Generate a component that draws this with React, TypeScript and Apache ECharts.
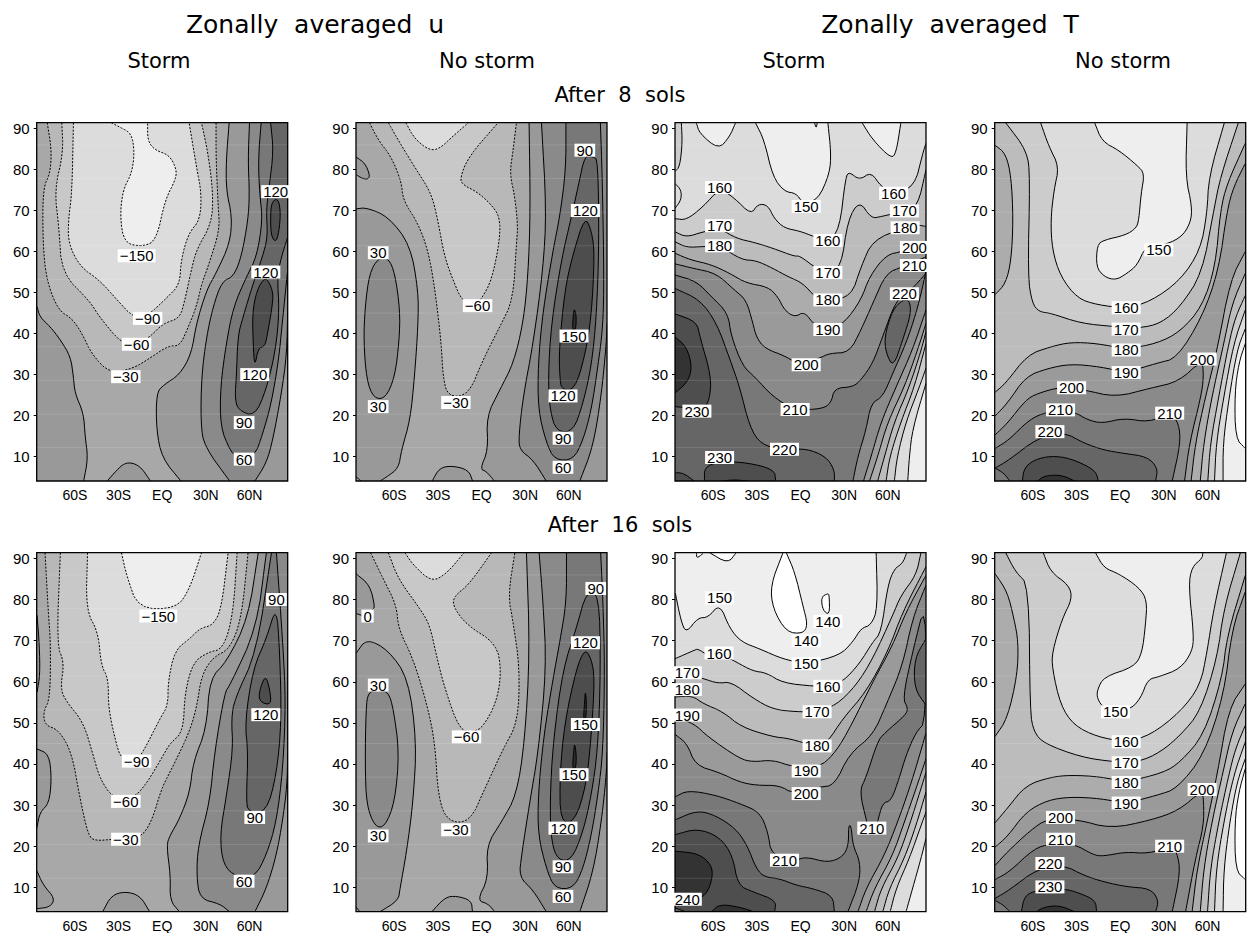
import React, { useEffect, useRef } from "react";
import * as echarts from "echarts";

type Pt = [number, number];
type Contour = [number, string, Pt[]];

const latTicks = [-60, -30, 0, 30, 60];
const latNames = ["60S", "30S", "EQ", "30N", "60N"];
const heightTicks = [10, 20, 30, 40, 50, 60, 70, 80, 90];
const stripeHeights = [12.2, 20.4, 28.6, 36.8, 45, 53.2, 61.4, 69.6, 77.8, 86];

const uStorm8: Contour[] = [
  [0, "SW", [[-86, 46.6], [-84, 44], [-77, 41.7], [-70, 38.5], [-63, 34.4], [-61, 29.5], [-60, 25.5], [-54, 20.5], [-53, 15], [-51, 9.6], [-54, 4]]],
  [0, "", [[-38, 4], [-31, 6.8], [-26, 8.4], [-20, 8.5], [-14, 7.2], [-8, 4]]],
  [-60, "", [[-79, 91.4], [-76, 84.7], [-77, 79], [-82, 75.4], [-82, 62], [-79.5, 53], [-71.5, 45.7], [-62, 43.7], [-55, 40], [-48.5, 35], [-36, 30.3], [-20, 31.5], [-8.5, 34], [4, 37], [12, 37], [17, 40.8], [23.5, 46.5], [27, 52], [31.5, 56.3], [39.5, 65.2], [38.5, 70.9], [37, 82.3], [37, 91.4]]],
  [-90, "", [[-69, 91.4], [-68, 84], [-74, 75], [-71, 66], [-69, 54.7], [-50, 48], [-43, 44], [-28, 37.6], [-17.5, 37.2], [-8.5, 39.2], [0.7, 42.5], [12, 43.7], [15.5, 48], [20, 55.5], [23.5, 60.4], [34, 66.9], [35, 74.2], [31.5, 84], [27, 91.4]]],
  [-120, "", [[-61, 91.4], [-62, 74.2], [-64.5, 67.7], [-64.5, 62], [-56.5, 56.3], [-43, 53], [-31, 48.2], [-20, 44], [-11, 44], [4, 49], [12, 52], [13, 58], [18, 64.4], [26, 67.7], [27, 74.2], [23.5, 80.7], [18.5, 91.4]]],
  [-180, "", [[-35, 91.4], [-29, 90.3], [-21, 88.8], [-19, 84], [-21, 79], [-27, 75], [-29, 68.5], [-26, 62], [-13, 61.2], [-4, 62.8], [2, 72.6], [9, 77.4], [10, 79.9], [5, 83.5], [-5, 84.7], [-10, 87], [-10, 91.4]]],
  [0, "SE,NE", [[46, 91.4], [44, 82.3], [44, 75], [48, 68.5], [46.5, 62], [37, 54.7], [30.5, 50.6], [23.5, 42.5], [20, 35], [12, 30], [1, 27.5], [-4, 25.5], [-4, 16.5], [0, 9.6], [13, 4]]],
  [30, "SE,NE", [[60, 91.4], [59, 82.3], [60, 74], [59, 67.7], [54.5, 58.8], [49, 53.9], [41, 52.7], [35, 46.6], [30.5, 39.3], [27, 29.5], [26.5, 18], [29, 12.5], [46.5, 4]]],
  [0, "SE", [[63.6, 4], [71.5, 8.4], [76, 14], [82, 25.5], [85.6, 35], [86.25, 45.7]]],
  [60, "NE", [[68, 91.4], [66, 82.3], [67, 74], [69, 67.7], [65, 58.8], [58, 53.9], [49, 46.6], [44, 37.6], [40, 27], [40, 17.3], [46.5, 11.6], [51, 10], [63.5, 10], [69, 15.5], [75, 23], [80, 33.5], [82.5, 42.5], [86.25, 55.5]]],
  [60, "NE", [[79, 91.4], [82, 85.5], [86.25, 79]]],
  [90, "NE", [[74.5, 91.4], [76.5, 84.4], [73.5, 75.8], [71.5, 70], [72.5, 63.6], [69, 58.8], [62.5, 52.2], [55.5, 44], [52, 39.4], [51, 29.5], [50, 24.6], [52, 21.4], [63.5, 19.8], [71.5, 26.3], [78, 36], [80.5, 45.7], [79, 53.9], [82, 58.8], [86.25, 63.5]]],
  [120, "loop", [[75, 72], [79.5, 73], [81.3, 70], [80.7, 66], [78.5, 62.2], [75, 63.6], [74.4, 67.7]]],
  [120, "loop", [[71, 54], [76, 50.6], [76, 47.4], [72, 39.2], [70.5, 37], [66, 36.4], [63.5, 31.8], [62.5, 37.6], [62, 45], [65, 50.6]]],
];

const uClear8: Contour[] = [
  [0, "", [[-86, 83], [-80, 81.5], [-76.7, 78.6], [-78, 77.6], [-82, 77.8], [-86, 78.7]]],
  [-60, "", [[-77, 91.4], [-71, 87.2], [-62, 83.1], [-55, 77], [-54, 72.6], [-43.7, 66.9], [-36.8, 60.4], [-32.2, 51.4], [-27.6, 37.6], [-26.5, 29.5], [-23, 24.6], [-9, 25], [1, 33.6], [12.6, 41.7], [21.7, 48.2], [24, 62], [25, 66], [22.9, 73.4], [19.4, 79], [21.7, 84.7], [24, 91.4]]],
  [-90, "", [[-64, 91.4], [-56, 86.4], [-44.5, 79.8], [-34.5, 74.2], [-30, 67.7], [-25.5, 58.8], [-19.5, 53], [-13.5, 48], [-4, 47], [0, 48.5], [7, 53], [12.6, 62.8], [12.6, 68.5], [5.8, 71.8], [-3.4, 74.6], [-12.6, 76.2], [-14.9, 77.8], [-9, 83.1], [11.4, 91.4]]],
  [-120, "", [[-52, 91.4], [-46, 87.5], [-36, 84.7], [-29, 85], [-20, 88], [-9, 91.4]]],
  [0, "SW", [[-86.25, 70.4], [-79, 70.7], [-64, 68.5], [-49, 61.6], [-43.5, 50.6], [-43.5, 42.5], [-46, 29.5], [-49, 19], [-55, 11.6], [-57, 7.2], [-65, 5.1], [-70, 4]]],
  [-30, "SW", [[-86.25, 5.1], [-82.5, 4]]],
  [30, "loop", [[-71, 58.4], [-77, 54.7], [-80, 46.6], [-81, 38.4], [-79, 28.7], [-74, 24.2], [-66, 24.2], [-59.5, 29.5], [-56.5, 38.4], [-56, 45.7], [-59.5, 54.7], [-64, 58.4]]],
  [0, "", [[-34, 4], [-29, 7.2], [-20.6, 7.8], [-9, 6.8], [-6, 4]]],
  [0, "SE,NE", [[32.7, 91.4], [33.6, 70], [32, 54], [28.6, 42.5], [22, 32.8], [12.6, 26.3], [3.4, 19.8], [4.6, 11.6], [-1, 7], [3.4, 6.4], [9, 4]]],
  [30, "SE,NE", [[41.2, 91.4], [44.6, 70], [42.3, 55.5], [35.5, 37.6], [28.6, 24.6], [25.6, 14.9], [26.3, 11.6], [35.5, 9.2], [44.6, 4]]],
  [0, "SE", [[67.5, 4], [76.7, 12.5], [82.4, 25], [85.8, 37.6], [86.25, 42.5]]],
  [60, "", [[58, 91.4], [58, 79.9], [53.8, 68.5], [49.2, 60.4], [42.3, 45.7], [38.9, 32.8], [38.9, 21.4], [44.6, 13.3], [50.3, 9.2], [63, 9.2], [69.8, 14], [75.5, 21.4], [80, 32], [83.5, 41.7], [84.2, 53.9], [83, 78.2], [81.7, 91.4]]],
  [90, "loop", [[71, 83.5], [66.4, 75.8], [61.8, 68.5], [54.9, 58], [48, 42.5], [45.8, 29.5], [47, 21.4], [51.5, 16.1], [63, 16.1], [69.8, 23], [75.5, 32], [79, 44], [80.8, 62], [80, 82.3], [76.7, 83.1]]],
  [120, "loop", [[71, 68.5], [63, 59.6], [57.2, 50.6], [53.3, 36], [53.8, 29.5], [55, 26.3], [64, 26.3], [71, 34.4], [75.5, 44], [77.8, 59.6], [75.5, 65.2]]],
  [150, "loop", [[63.6, 46.2], [65.2, 44.5], [64.8, 40.9], [62.5, 40.9], [63, 44]]],
];

const tStorm8: Contour[] = [
  [160, "SE,SW", [[-86.25, 68], [-78.4, 67.7], [-67, 70.9], [-55.5, 75.4], [-45.3, 73], [-34, 69], [-29.3, 71.6], [-22.4, 71.3], [-18, 68], [-11, 65.7], [-0.7, 65], [9.6, 63.6], [18.8, 62.7], [26.8, 65.3], [31, 78.2], [33.6, 79.4], [40.5, 77.4], [48.5, 79.4], [55.4, 75.8], [64, 74.2], [78.3, 75.8], [84, 83.9], [86.25, 86.4]]],
  [170, "SE,SW", [[-86.25, 64.8], [-78.4, 63.5], [-67, 64.8], [-55.5, 65.6], [-44, 63.2], [-31.6, 62.2], [-19, 60.8], [-4, 58.8], [-0.7, 59], [10.8, 55.9], [18.8, 54.9], [28, 56.3], [32.5, 67.7], [40.5, 72.4], [48.5, 68.1], [55.4, 68.5], [71.4, 69.9], [80.5, 71], [86.25, 79.9]]],
  [180, "SE,SW", [[-86.25, 62.4], [-78.4, 61], [-67, 61.2], [-55.5, 61.4], [-40.6, 58], [-30.4, 57.8], [-19, 55.9], [-8.7, 53.9], [1.6, 52.3], [10.8, 48.6], [18.8, 48.2], [34.8, 49], [41.6, 56.3], [49.7, 62.8], [71.4, 65.8], [80.5, 66.5], [86.25, 66.1]]],
  [190, "SE,SW", [[-86.25, 59.6], [-76, 58], [-61.3, 56.8], [-48.7, 54.7], [-37.3, 52.3], [-22.4, 51.4], [-15.6, 49], [-11, 45.7], [-4, 44], [2.7, 45.4], [9.6, 42], [18.8, 41], [30, 42.5], [41.6, 48.2], [47.4, 53.9], [58.8, 59.2], [70.2, 60], [86.25, 62.4]]],
  [200, "SE,SW", [[-86.25, 57], [-73.7, 55.9], [-58, 54.7], [-45.3, 50.6], [-37.3, 48.2], [-32.7, 42.5], [-30.4, 39.2], [-24.7, 36.4], [-9.8, 34.4], [-0.7, 32.3], [13, 34], [20, 35.2], [33.6, 35.4], [41.6, 40.9], [49.7, 47.4], [58.8, 54.7], [70.2, 56.3], [86.25, 58.7]]],
  [210, "SE,SW", [[-86.25, 54.3], [-71.4, 52.7], [-61.2, 49], [-49.9, 45], [-47.6, 39.3], [-39.6, 32], [-31.6, 29.5], [-19, 24.6], [-4, 21.4], [14.2, 21.6], [21, 23], [23.3, 26.7], [36, 27], [41.6, 28.7], [49.7, 32.8], [56.5, 39.3], [65.7, 48.2], [76, 50.6], [86.25, 54.7]]],
  [220, "SW", [[-86.25, 51], [-69, 48.2], [-57.5, 42.5], [-48.4, 33.6], [-41.9, 27.1], [-35, 17.3], [-27, 12.9], [-11, 11.6], [3.9, 12], [17.6, 10], [23.3, 6.8], [23.3, 4]]],
  [230, "", [[-86.25, 44.8], [-71.4, 42.9], [-69.1, 39.2], [-61.3, 29.5], [-62.5, 23.8], [-67, 21.5], [-86.25, 22.2]]],
  [240, "", [[-86.25, 39.2], [-78.4, 36.8], [-74.5, 32], [-77.3, 28.3], [-86.25, 25.5]]],
  [230, "", [[-66, 4], [-66, 7.5], [-55.6, 8.8], [-37.3, 8.6], [-18, 6.9], [-17, 4]]],
  [240, "", [[-55.6, 4], [-45, 4.4], [-35, 4]]],
  [230, "SW", [[-86.25, 6.1], [-80.6, 6], [-72.7, 4]]],
  [220, "loop", [[70.2, 48.2], [63.3, 45.8], [57.7, 39.3], [58.8, 35.2], [63.8, 31.8], [70.2, 38.4], [76, 44.9], [74.8, 48.2]]],
  [200, "SE", [[36, 4], [39.4, 10], [45, 16.5], [48.5, 23], [56.5, 24.6], [63.4, 30.3], [72.5, 37.6], [79.4, 44.9], [84, 51.4], [86.25, 55.5]]],
  [190, "SE", [[43.2, 4], [48.5, 10], [55.4, 18.5], [65.7, 27], [77, 36], [86.25, 45.8]]],
  [180, "SE", [[47.4, 4], [53, 10], [60, 18.5], [71.4, 27], [80.5, 36], [86.25, 42.5]]],
  [170, "SE", [[53, 4], [57.7, 10], [64.5, 18.5], [74.8, 27], [83, 36], [86.25, 40.5]]],
  [160, "SE", [[58.8, 4], [61.3, 10], [69, 18.5], [78.3, 27], [86.25, 37.6]]],
  [150, "SE", [[64.5, 4], [66.4, 10], [72.5, 18.5], [81.7, 27], [86.25, 31.6]]],
  [140, "SE", [[73.7, 4], [74.8, 10], [77, 16.7], [86.25, 27.9]]],
  [140, "", [[-71.6, 91.4], [-69.4, 88.8], [-56.3, 84.9], [-48.7, 88], [-44.6, 91.4]]],
  [140, "", [[-31, 91.4], [-25, 87.2], [-19, 78.2], [-11, 74.6], [-3, 74.2], [1.6, 71.8], [12, 72.6], [20, 79], [21, 84], [18.8, 91.4]]],
  [150, "", [[9.6, 91.4], [10.8, 90], [11.5, 91.4]]],
  [140, "", [[42.3, 91.4], [49.7, 87.2], [62.2, 82.7], [65.7, 84], [69, 91.4]]],
  [160, "NW", [[-81.9, 91.4], [-81.2, 86.4], [-83, 80.7], [-86.25, 79.5]]],
  [150, "", [[-86.25, 76.6], [-82, 75], [-82, 72.6], [-86.25, 70.5]]],
];

const tClear8: Contour[] = [
  [160, "", [[-78.7, 91.4], [-64, 84.5], [-62, 78], [-63.5, 54], [-60.5, 47.4], [-55.7, 45.3], [-48, 45], [-27, 42.5], [-4, 41.7], [13, 41.3], [28, 42.5], [41.4, 46.6], [56.3, 54.7], [64.3, 70], [68.9, 78.2], [81.2, 91.4]]],
  [150, "", [[-54.7, 91.4], [-49, 85.6], [-42, 80.7], [-45.5, 75], [-47.8, 67.7], [-46.7, 60.4], [-41, 53.9], [-29.5, 48.6], [-15.8, 47], [3.7, 46.2], [20.8, 47.8], [41.4, 53], [55.1, 60.4], [59.7, 69.3], [60.9, 78.2], [71.6, 91.4]]],
  [140, "", [[-17.6, 91.4], [-12.4, 86.8], [-1, 84.7], [11.7, 81], [16.7, 79], [14.4, 74.2], [12.8, 67.7], [11, 65.7], [3.7, 64], [-11.2, 62.8], [-15.8, 61.6], [-16.5, 56.3], [-11.2, 53.9], [-3.2, 53], [4.8, 54.7], [11.7, 56.7], [17.4, 61.2], [26.5, 61.2], [41.4, 63.2], [48.3, 66.9], [49.4, 70.9], [44.9, 78.2], [46, 91.4]]],
  [180, "", [[-86, 85.9], [-78.7, 83.9], [-74.9, 78.2], [-73.5, 67.7], [-74.9, 57.9], [-78.7, 52.2], [-86, 49.5]]],
  [180, "SE,SW", [[-86, 25.7], [-78.7, 27.9], [-63.8, 34.8], [-47.8, 36.8], [-34, 37.9], [-15.8, 37.6], [3.7, 36.2], [25.4, 37.6], [41.4, 40.5], [56.3, 46.6], [65.4, 56.3], [68.9, 70.1], [73.5, 76.6], [86, 86.4]]],
  [190, "SE,SW", [[-86, 19.9], [-77.6, 23], [-65, 29.5], [-50, 31.5], [-34, 32.6], [-13.5, 31.9], [3.7, 30.5], [25.4, 32.8], [39, 34], [56.3, 44], [67.7, 55.5], [73.5, 70.1], [78, 75.8], [86, 81.5]]],
  [200, "SW", [[-86, 15.3], [-77.6, 18.1], [-65, 23.8], [-57, 25.4], [-41, 27], [-25, 26.3], [-3.2, 24.5], [20.8, 26.7], [40.3, 28.3], [56.3, 33.6], [57.4, 29.5], [55.5, 24.6], [47.6, 13.3], [44.2, 4]]],
  [210, "SW", [[-86, 12], [-76.4, 14.1], [-62.7, 19], [-50, 21], [-31.8, 21], [-22.7, 19], [-12.4, 18.1], [2.5, 19.4], [19.7, 18.4], [34.6, 20.6], [40.3, 18.1], [41.4, 13.2], [35.7, 4]]],
  [220, "SW", [[-86, 7.2], [-76.4, 9.2], [-57, 14.5], [-38.7, 16], [-25, 13.3], [-11.2, 11.6], [2.5, 10.8], [18.5, 10], [25.9, 7.2], [24.3, 4]]],
  [210, "SW", [[-86, 7.2], [-80, 6], [-75.7, 4]]],
  [230, "", [[-67.3, 4], [-66, 7.2], [-59.3, 9.2], [-47.8, 10.2], [-34, 9.6], [-17, 6.7], [-15, 4]]],
  [240, "", [[-57, 4], [-52.4, 5.3], [-41, 5.6], [-30.7, 4]]],
  [180, "SE", [[48.7, 4], [51.7, 13.3], [58.6, 24.6], [66.6, 36], [75.7, 53], [86, 60]]],
  [170, "SE", [[55, 4], [57.4, 13.3], [63, 24.6], [71.2, 37.6], [76.9, 47.3], [86, 54.7]]],
  [160, "SE", [[60.2, 4], [62, 13.3], [67.7, 24.6], [74.6, 37.6], [79.2, 44], [86, 49.3]]],
  [150, "SE", [[64.8, 4], [66, 13.3], [71.2, 24.6], [78, 37.6], [86, 45.8]]],
  [140, "SE", [[70.7, 4], [70.7, 13.3], [74.6, 23.8], [80.3, 36], [86, 41.2]]],
  [130, "", [[86, 12], [79.2, 14.5], [78.7, 25.5], [81.5, 32.8], [86, 37.6]]],
];

const uStorm16: Contour[] = [
  [-60, "", [[-80.5, 91.4], [-78.3, 77], [-76.7, 69.7], [-77, 55.9], [-81.7, 52.7], [-80.5, 49.4], [-71.4, 48.4], [-62.2, 42.9], [-56.5, 31.6], [-50.8, 22.6], [-46.2, 21.3], [-33.6, 21.7], [-15.3, 21.9], [-7.3, 25.9], [-0.5, 34], [5.3, 38], [17.8, 47], [23.6, 53.5], [27, 61.6], [35, 66], [46.5, 68], [54.5, 75.4], [59, 91.4]]],
  [-90, "", [[-70, 91.4], [-72.5, 68.9], [-67.3, 64.8], [-70, 58.3], [-65.7, 55.1], [-54.2, 50.2], [-47.4, 42.1], [-42.8, 36.4], [-33.6, 31.6], [-20, 31.6], [-10.8, 35.2], [0.7, 42.1], [5.3, 45], [14.4, 47.8], [15.6, 57.5], [21.3, 64.8], [31.6, 67.2], [41.9, 68], [48.7, 76.2], [51.5, 91.4]]],
  [-120, "", [[-51.3, 91.4], [-52.4, 77.4], [-44, 72.1], [-42, 64], [-37, 60.8], [-37, 53.5], [-31.4, 44.6], [-28, 41.3], [-17.6, 41], [-13, 43], [-1.6, 51], [4, 54.3], [4, 60], [8.7, 67.7], [19, 70.5], [25.9, 73], [35, 73.8], [40.7, 77.8], [45.3, 91.4]]],
  [-180, "", [[-28, 91.4], [-24.5, 85.9], [-16.5, 77.8], [9.8, 77.8], [19, 82.7], [27, 91.4]]],
  [0, "", [[-86, 76.2], [-84.4, 68.9], [-84, 61.6], [-86, 57.5]]],
  [0, "", [[-86.25, 43.7], [-77.8, 42.4], [-76, 36.4], [-77.8, 30.4], [-84, 28.3], [-86.25, 24.3]]],
  [0, "", [[-86.25, 14.1], [-81.7, 10.5], [-73.7, 7.3], [-77, 5.2], [-86.25, 4.8]]],
  [0, "", [[-41, 4], [-35, 8], [-25.6, 9], [-15.3, 8], [-8.5, 4]]],
  [0, "SE,NE", [[66, 91.4], [59, 75.4], [44.2, 64.8], [32.7, 60.8], [30.4, 48.6], [21.3, 40.5], [19, 33.2], [12, 26.7], [5.3, 22.6], [3, 20.2], [5.7, 12.9], [5.3, 6.8], [12, 4]]],
  [30, "SE,NE", [[71.6, 91.4], [64.8, 73], [46.5, 59.1], [43, 57.5], [36, 42.9], [32.7, 30.8], [24.7, 20.2], [23.6, 12.9], [25.9, 7.2], [39.6, 6], [46.5, 4]]],
  [0, "SE", [[63.6, 4], [71.6, 9.7], [78.5, 17.8], [83, 26.7], [85.8, 34.8], [86.25, 42.7]]],
  [60, "", [[75.1, 91.4], [64.8, 67.2], [49.9, 55.9], [47.5, 51], [48.7, 43.7], [44.2, 32.4], [39.6, 22.7], [41.9, 15.4], [51, 12.5], [63.6, 12.5], [71.6, 17.8], [78.5, 25.9], [83, 38.9], [84.9, 55.1], [83, 68.9], [78.5, 91.4]]],
  [90, "loop", [[78.5, 78.6], [71.6, 70.5], [62.5, 63.2], [56.8, 50.2], [59, 42.9], [57.8, 31.6], [59, 28.3], [71.6, 28.3], [78.5, 37.3], [82, 50.2], [80.8, 67.3]]],
  [120, "loop", [[70.9, 61.7], [66.5, 57.5], [67, 55.1], [75, 54.3], [73.9, 58.3]]],
];

const uClear16: Contour[] = [
  [-60, "", [[-76.2, 91.4], [-67.5, 85], [-58.4, 78.6], [-57.2, 73], [-47, 65.6], [-37.8, 55], [-32, 45.4], [-29.7, 31.6], [-22.9, 25.9], [-8, 25.9], [2.3, 34], [14.9, 43.7], [25, 50.2], [26.3, 63.2], [21.7, 74.6], [18.3, 81], [22.9, 91.4]]],
  [-90, "", [[-64, 91.4], [-57.2, 85], [-42.3, 77.8], [-35.5, 73.8], [-31, 66.4], [-25.2, 58.3], [-15, 48.2], [-5.7, 47.8], [1, 49], [10.3, 55], [13.7, 62.4], [10.3, 69.3], [-10.3, 73.8], [-20, 78.6], [-18.3, 81], [-9, 83.5], [6.9, 91.4]]],
  [-120, "", [[-52.6, 91.4], [-46.9, 88.4], [-34.3, 84.3], [-24, 86.3], [-12, 91.4]]],
  [0, "SW", [[-86.25, 66.9], [-79, 70.5], [-64, 67.7], [-50.3, 60.8], [-44.6, 45.4], [-47, 30.7], [-51.5, 18.6], [-56, 9.7], [-57.2, 6.8], [-70, 4]]],
  [0, "", [[-86.25, 86.3], [-76.7, 83.5], [-73.2, 78.2], [-75, 77.5], [-81, 76], [-86.25, 76.6]]],
  [30, "loop", [[-71, 58], [-77.8, 57.5], [-79.4, 53.5], [-80, 39.7], [-79, 30], [-73.2, 24.7], [-66.4, 24.7], [-59.5, 30.8], [-56.5, 42.9], [-60.6, 53.5], [-64, 57.5]]],
  [0, "", [[-34.3, 4], [-25, 7.6], [-17, 7.9], [-7, 6.8], [-6.2, 4]]],
  [-30, "SW", [[-86.25, 5.2], [-83.5, 4]]],
  [0, "SE,NE", [[30.9, 91.4], [33.2, 67.2], [29.7, 45.4], [24, 32.4], [13.7, 25.9], [3.4, 20.2], [4.6, 12.1], [-3, 6.8], [4.6, 6], [9.2, 4]]],
  [30, "SE,NE", [[39.6, 91.4], [42.3, 79.4], [44.6, 63.2], [39, 42.9], [33.2, 30.8], [27.5, 17.8], [25.9, 12.5], [35.5, 9.3], [44.6, 4]]],
  [0, "SE", [[67.5, 4], [76.7, 13.7], [82.4, 25.9], [85.8, 37.3], [86.25, 42.9]]],
  [60, "", [[58.4, 91.4], [58.4, 79.4], [53.8, 69.7], [49.2, 60.8], [42.8, 47], [38.9, 32.4], [38.9, 22.7], [44.6, 14.5], [50.3, 9.7], [63, 9.7], [69.8, 14.5], [75.5, 22.7], [80, 32.4], [83.5, 42.9], [84.7, 63.2], [83.5, 79.4], [81.9, 91.4]]],
  [90, "loop", [[72, 81.9], [65.2, 73], [56, 63.2], [49.2, 45.4], [47, 30.7], [48, 21], [52.6, 16.6], [61.8, 16.6], [69.8, 23.5], [75.5, 32.4], [80, 43.7], [81.9, 63.2], [80.8, 81.5]]],
  [120, "loop", [[71, 68], [65.2, 63.2], [57.2, 50.2], [53.8, 37.3], [54.2, 25.9], [64, 25.9], [72, 34.8], [75.5, 47], [77.8, 60.8], [75.5, 65.6]]],
  [150, "loop", [[64, 45.2], [65.2, 42.1], [64.8, 38.9], [62.5, 38.9], [63.3, 42.9]]],
  [150, "loop", [[71.3, 57.9], [72.2, 55.1], [71.8, 51], [70, 51], [70.9, 55.1]]],
];

const tStorm16: Contour[] = [
  [150, "NE,SE,SW", [[-86, 81.5], [-82, 74.6], [-78.5, 71.9], [-70.5, 75.6], [-63.6, 75.6], [-55.5, 79], [-48.7, 73], [-40.7, 69.7], [-28, 68], [-12, 65.5], [3.9, 64.4], [26.8, 66.4], [36, 69.7], [41.6, 73], [48.5, 73.8], [53, 77.8], [52, 91.4]]],
  [160, "NE,SE,SW", [[-86.25, 65.6], [-72.8, 67.7], [-70.5, 68], [-63.6, 66.4], [-55.5, 67], [-44.2, 64.8], [-32.7, 62.6], [-23.6, 62.2], [-12, 59.7], [9.6, 58.9], [18.8, 58.9], [29, 60], [40.5, 64.4], [49.7, 69.7], [55.4, 72], [60, 83.5], [64.5, 87.5], [70.2, 88.8], [73, 91.4]]],
  [170, "NE,SE,SW", [[-86.25, 62.8], [-67, 60.8], [-56.8, 59.6], [-47.6, 60], [-32.7, 56], [-19, 53.3], [-3, 52.7], [10.8, 52.7], [24.5, 54.3], [38.2, 59.1], [49.7, 65.6], [63.4, 76.2], [69, 81], [79.4, 85.9], [82.8, 91.4]]],
  [180, "SE,SW", [[-86.25, 56.3], [-74.3, 56.6], [-67, 54.7], [-53.3, 52.7], [-40.7, 49], [-19, 46.6], [-7.5, 46.2], [10.8, 44.2], [18.8, 45.4], [29, 51], [45, 57.5], [60, 67.3], [70.2, 77], [86.25, 88]]],
  [190, "SE,SW", [[-86.25, 51.4], [-73, 49.8], [-63.6, 46.6], [-41.9, 41.3], [-32.7, 40.5], [-19, 41], [-5.3, 39.3], [13, 39.3], [22.2, 42.1], [31.4, 47], [49.7, 60], [63.4, 68.9], [72.5, 77], [86.25, 85.9]]],
  [200, "SE,SW", [[-86.25, 47.2], [-78, 45], [-72.2, 39.7], [-55.6, 37.9], [-41.9, 35.6], [-30.4, 34.8], [-14.4, 34.8], [-5.3, 32.8], [13, 34.4], [23.3, 34.8], [33.6, 42.5], [49.7, 47], [58.8, 54.3], [70.2, 64], [77, 75.4], [86.25, 83.5]]],
  [210, "", [[45.5, 26], [40.5, 33.4], [45, 36.7], [53, 45.5], [57.7, 47.5], [72.5, 52], [73.8, 53.6], [70.2, 56], [77, 67.2], [86.25, 80.2], [86.25, 50.2], [79.4, 47.8], [72.5, 42.1], [68, 36.7], [62.3, 31], [56.5, 30.6], [53, 26]]],
  [220, "", [[86.25, 70.5], [78.3, 65.6], [78.3, 58.3], [86.25, 54.3]]],
  [210, "SW", [[-86.25, 32], [-77.3, 33.6], [-58, 32.4], [-42, 30.4], [-28, 28.3], [-22.4, 23.5], [-20, 17.8], [-3, 16.6], [3.9, 17.4], [18.8, 16], [29, 17.4], [33, 20.2], [33, 25], [34.8, 25], [36, 20.2], [41, 16.2], [40.5, 11.3], [32.5, 4]]],
  [220, "SW", [[-86.25, 26.4], [-70.9, 28.7], [-58.4, 27.5], [-44.6, 24.3], [-36.6, 20.2], [-30.4, 14.5], [-24.7, 12.5], [-14.4, 12.1], [-3, 10.5], [8.5, 9.7], [22.2, 8], [23.3, 4]]],
  [230, "SW", [[-86.25, 22.8], [-70.9, 24.3], [-55.8, 22.3], [-46.7, 17.8], [-43, 10.5], [-32.7, 8.9], [-16.7, 6.8], [-17.8, 4]]],
  [240, "", [[-86.25, 18.8], [-69.8, 18.2], [-61, 15.4], [-60.5, 12.1], [-64.4, 8.5], [-70, 7.2], [-86.25, 6.4]]],
  [240, "", [[-61.3, 4], [-55.6, 5.9], [-42, 5.2], [-31.6, 4]]],
  [220, "SW", [[-86.25, 5], [-78.5, 4]]],
  [190, "SE", [[39.4, 4], [45, 9.7], [57.7, 17.8], [66.8, 25.9], [74.8, 34], [80.5, 40.5], [86.25, 47.6]]],
  [180, "SE", [[45, 4], [50.8, 9.7], [63.4, 17.8], [71.4, 25.9], [79.4, 34], [86.25, 41.3]]],
  [170, "SE", [[50.8, 4], [55.4, 9.7], [66.8, 17], [74.8, 25], [82.8, 34], [86.25, 38]]],
  [160, "SE", [[56.5, 4], [61, 9.7], [71.4, 17], [79.4, 25], [86.25, 33.2]]],
  [150, "SE", [[61.6, 4], [65.7, 9.7], [74.8, 17], [82.8, 25], [86.25, 28.3]]],
  [140, "SE", [[72.5, 4], [77, 9.7], [82.8, 17], [86.25, 21.9]]],
  [130, "", [[-62.5, 91.4], [-49.9, 88.8], [-44.2, 91.4]]],
  [130, "", [[-71.4, 91.4], [-71.4, 90], [-67, 91.2]]],
  [130, "", [[-12, 91.4], [-20.6, 83.5], [-19, 77.8], [-9.8, 72.1], [1.6, 71.7], [5, 73.8], [1.6, 78.6], [-4, 86.7], [-9.8, 91.4]]],
  [130, "loop", [[18.8, 81.5], [14.2, 80.6], [15.3, 77.4], [20, 76.2], [19.8, 81]]],
];

const tClear16: Contour[] = [
  [160, "", [[-78.7, 91.4], [-71.9, 86.7], [-62.7, 83.5], [-62, 52.7], [-59.3, 47.8], [-52.4, 45], [-27.2, 41.7], [-4.3, 40.5], [12.8, 40.5], [27.7, 42.9], [41.4, 47], [55, 52.7], [66.6, 65.7], [71.2, 77.8], [82.6, 91.4]]],
  [150, "", [[-52.9, 91.4], [-47.8, 86.7], [-35.2, 83.5], [-33, 80.2], [-39.8, 75.4], [-46.7, 67.3], [-46.7, 63.2], [-41, 54.3], [-31.8, 49.4], [-15.8, 46.6], [3.7, 45.4], [20.8, 47], [41.4, 52.7], [55, 59.1], [59.7, 67.3], [64.3, 77.8], [73, 91.4]]],
  [140, "", [[-17, 91.4], [-11.2, 87.7], [-1, 86.3], [12.8, 83], [18.5, 79.8], [17.4, 73.8], [15, 66.9], [9.4, 63.6], [-11.2, 61.2], [-15.8, 58], [-15.8, 55.9], [-11.2, 53.5], [6, 53], [14, 55.9], [19, 60.6], [26.5, 61.2], [41.4, 63.2], [49.4, 67.3], [50.6, 71.3], [47, 83.5], [49.4, 88], [56.3, 90], [56.8, 91.4]]],
  [180, "", [[-86, 86.3], [-77.6, 81.9], [-73, 75.4], [-70, 69.7], [-70.7, 61.6], [-77.6, 51], [-86, 46.7]]],
  [180, "SE,SW", [[-86, 25.7], [-77.6, 29.2], [-65, 34.8], [-47.8, 36.8], [-34, 37.3], [-13.5, 36.9], [3.7, 35.6], [30, 37.9], [41.4, 40.5], [57.4, 47], [70, 60.8], [73.5, 71.3], [86, 85.9]]],
  [190, "SE,SW", [[-86, 19.8], [-77.6, 22.3], [-65, 28.3], [-50, 31.2], [-34, 32], [-13.5, 31.6], [3.7, 30.4], [25.4, 32.4], [39, 34], [57.4, 42.1], [71.2, 56.7], [76.9, 72.9], [86, 81.9]]],
  [200, "SW", [[-86, 15.3], [-77.6, 18.6], [-61.6, 23.9], [-50, 26.7], [-29.5, 26.5], [-6.6, 24.3], [20.8, 26.3], [40.3, 28.7], [56.3, 33.6], [57.4, 30.8], [57.4, 25], [51.7, 17], [44.9, 4]]],
  [210, "SW", [[-86, 11.9], [-76.4, 13.7], [-59.3, 19.4], [-47.8, 20.6], [-31.8, 20.6], [-18, 17.8], [-11.2, 17.6], [3.7, 18.6], [19.7, 18.2], [34.6, 20], [39, 18.6], [41.4, 13.7], [35.7, 4]]],
  [220, "SW", [[-86, 7.3], [-76.4, 9.3], [-57, 14.5], [-38.7, 15.4], [-25, 12.9], [-11.2, 11.3], [4.8, 10.1], [20.8, 9.7], [26.5, 6.8], [24.3, 4]]],
  [210, "SW", [[-86, 6.8], [-80, 5.6], [-75.7, 4]]],
  [230, "", [[-68, 4], [-65.7, 8], [-57, 9.3], [-38.7, 9.7], [-27.2, 8.5], [-17, 6.8], [-16.2, 4]]],
  [240, "", [[-58, 4], [-52.4, 5.2], [-42, 5.6], [-30.7, 4]]],
  [180, "SE", [[49.4, 4], [52.9, 14.5], [59.7, 25.9], [66.6, 37.3], [74.6, 53.5], [86, 59.5]]],
  [170, "SE", [[55, 4], [57.4, 14.5], [63, 25.9], [71.2, 38.9], [76.9, 47.8], [86, 54.7]]],
  [160, "SE", [[60, 4], [62, 14.5], [67.7, 25.9], [74.6, 37.3], [79.2, 43.7], [86, 49.4]]],
  [150, "SE", [[64.8, 4], [66, 14.5], [71.2, 25.9], [78, 37.3], [86, 45.4]]],
  [140, "SE", [[70.7, 4], [71.2, 14.5], [75.3, 25.9], [80.3, 35.6], [86, 41.3]]],
  [130, "", [[86, 11.9], [79.2, 14.1], [78.7, 25.9], [81.5, 33.2], [86, 38.9]]],
];

const labelsUStorm8: [number, number, string][] = [[-17.6, 59, "−150"], [-10, 43.7, "−90"], [-17.6, 37.4, "−60"], [-25, 29.5, "−30"], [78, 74.6, "120"], [71.2, 55, "120"], [63.6, 30, "120"], [56.3, 18.3, "90"], [56.3, 9.4, "60"]];
const labelsUClear8: [number, number, string][] = [[71, 84.7, "90"], [71.4, 70, "120"], [63.6, 39.4, "150"], [56, 24.8, "120"], [56, 14.5, "90"], [56, 7.4, "60"], [-71, 59.7, "30"], [-71, 22.2, "30"], [-17.6, 23.2, "−30"], [-2.7, 46.8, "−60"]];
const labelsTStorm8: [number, number, string][] = [[-55.6, 75.6, "160"], [-55.6, 66.3, "170"], [-55.6, 61.4, "180"], [3.9, 71, "150"], [18.8, 62.7, "160"], [18.8, 54.9, "170"], [18.8, 48.2, "180"], [18.8, 41, "190"], [3.9, 32.4, "200"], [-3.7, 21.5, "210"], [-11, 11.8, "220"], [-71.2, 21.1, "230"], [-55.6, 9.8, "230"], [64, 74.2, "160"], [71.4, 69.9, "170"], [71.9, 65.8, "180"], [78.3, 61, "200"], [78.3, 56.6, "210"], [71.4, 49.7, "220"]];
const labelsTClear8: [number, number, string][] = [[26.5, 60.4, "150"], [4.1, 46.3, "160"], [4.1, 41.1, "170"], [4.1, 36, "180"], [4.1, 30.5, "190"], [-33.4, 26.8, "200"], [-41, 21.4, "210"], [-48.3, 16.1, "220"], [56.3, 33.8, "200"], [34, 20.6, "210"]];
const labelsUStorm16: [number, number, string][] = [[-2.7, 76, "−150"], [-17.6, 40.7, "−90"], [-25, 30.9, "−60"], [-25, 21.7, "−30"], [78.5, 80, "90"], [71.2, 52, "120"], [63.6, 27, "90"], [56.3, 11.5, "60"]];
const labelsUClear16: [number, number, string][] = [[-78.3, 76, "0"], [-71, 59.2, "30"], [-71, 22.5, "30"], [-10.3, 46.6, "−60"], [-17.6, 24, "−30"], [78.5, 82.7, "90"], [71.4, 69.5, "120"], [71.4, 49.6, "150"], [63.6, 37.4, "150"], [56, 24.4, "120"], [56, 15, "90"], [56, 7.8, "60"]];
const labelsTStorm16: [number, number, string][] = [[-55.6, 80.4, "150"], [-56, 67, "160"], [-77.8, 62.2, "170"], [-77.8, 58.1, "180"], [-77.8, 51.9, "190"], [-77.8, 7.1, "240"], [18.8, 74.7, "140"], [3.9, 70, "140"], [3.9, 64.4, "150"], [18.8, 58.9, "160"], [11.4, 52.7, "170"], [11.4, 44.4, "180"], [3.9, 38.3, "190"], [3.9, 32.8, "200"], [49, 24.4, "210"], [-11, 16.6, "210"]];
const labelsTClear16: [number, number, string][] = [[-3.2, 52.7, "150"], [4.1, 45.4, "160"], [4.1, 40.3, "170"], [4.1, 35.5, "180"], [4.1, 30.5, "190"], [-41, 27, "200"], [-41, 21.7, "210"], [-48.3, 15.8, "220"], [-48.3, 10.1, "230"], [56.3, 33.8, "200"], [34, 20, "210"]];

const shades: Record<number, string> = {
  [-180]: "#eeeeee", [-120]: "#dcdcdc", [-90]: "#c8c8c8", [-60]: "#b8b8b8", [-30]: "#a8a8a8",
  0: "#999999", 30: "#8a8a8a", 60: "#787878", 90: "#666666", 120: "#4d4d4d", 150: "#2e2e2e",
  130: "#ffffff", 140: "#eeeeee", 160: "#cccccc", 170: "#bcbcbc", 180: "#acacac", 190: "#9a9a9a",
  200: "#8a8a8a", 210: "#787878", 220: "#666666", 230: "#4e4e4e", 240: "#333333",
};
const tShade150 = "#dcdcdc";

const X_MIN = -86.25, X_MAX = 86.25, Y_MIN = 4.07, Y_MAX = 91.4;
const corners: Record<string, Pt> = { NE: [X_MAX, Y_MAX], SE: [X_MAX, Y_MIN], SW: [X_MIN, Y_MIN], NW: [X_MIN, Y_MAX] };
const FONT = "'Liberation Sans', sans-serif";
const TITLE_FONT = "'DejaVu Sans', sans-serif";

const panels = [
  { lines: uStorm8, labels: labelsUStorm8, base: "#a8a8a8", t: false, left: 36.7, top: 122.7, h: 358.3 },
  { lines: uClear8, labels: labelsUClear8, base: "#a8a8a8", t: false, left: 356, top: 122.7, h: 358.3 },
  { lines: tStorm8, labels: labelsTStorm8, base: tShade150, t: true, left: 675, top: 122.7, h: 358.3 },
  { lines: tClear8, labels: labelsTClear8, base: "#bcbcbc", t: true, left: 994.7, top: 122.7, h: 358.3 },
  { lines: uStorm16, labels: labelsUStorm16, base: "#a8a8a8", t: false, left: 36.7, top: 552.7, h: 359 },
  { lines: uClear16, labels: labelsUClear16, base: "#a8a8a8", t: false, left: 356, top: 552.7, h: 359 },
  { lines: tStorm16, labels: labelsTStorm16, base: "#eeeeee", t: true, left: 675, top: 552.7, h: 359 },
  { lines: tClear16, labels: labelsTClear16, base: "#bcbcbc", t: true, left: 994.7, top: 552.7, h: 359 },
];

const titles: [string, number, number, number][] = [
  ["Zonally  averaged  u", 315, 24, 25],
  ["Zonally  averaged  T", 950, 24, 25],
  ["Storm", 159, 61, 21],
  ["No storm", 487, 61, 21],
  ["Storm", 794, 61, 21],
  ["No storm", 1123, 61, 21],
  ["After  8  sols", 620, 95, 21],
  ["After  16  sols", 620, 525, 21],
];

function shadeOf(key: number, isT: boolean) {
  if (key === 150 && isT) return tShade150;
  return shades[key];
}

// Corner cutting, so that the estimated contour vertices read as smooth curves.
function smooth(pts: number[][], closed: boolean): number[][] {
  let out = pts;
  for (let n = 0; n < 2; n++) {
    const next: number[][] = closed ? [] : [out[0]];
    const m = out.length;
    for (let i = 0; i < (closed ? m : m - 1); i++) {
      const a = out[i], b = out[(i + 1) % m];
      next.push([a[0] * 0.75 + b[0] * 0.25, a[1] * 0.75 + b[1] * 0.25]);
      next.push([a[0] * 0.25 + b[0] * 0.75, a[1] * 0.25 + b[1] * 0.75]);
    }
    if (!closed) next.push(out[m - 1]);
    out = next;
  }
  return out;
}

function buildOption() {
  const grid: any[] = [], xAxis: any[] = [], yAxis: any[] = [], series: any[] = [];
  panels.forEach((p, i) => {
    grid.push({ show: true, backgroundColor: p.base, borderWidth: 0, left: p.left, top: p.top, width: 251, height: p.h });
    xAxis.push({
      gridIndex: i, type: "value", min: X_MIN, max: X_MAX,
      splitLine: { show: false },
      axisLine: { show: false, onZero: false },
      axisTick: { show: false, customValues: latTicks },
      axisLabel: {
        show: true, customValues: latTicks, margin: 7, color: "#000", fontSize: 14, fontFamily: FONT,
        formatter: (v: number) => latNames[latTicks.indexOf(v)] ?? "",
      },
    });
    yAxis.push({
      gridIndex: i, type: "value", min: Y_MIN, max: Y_MAX,
      splitLine: { show: false },
      axisLine: { show: false, onZero: false },
      axisTick: { show: true, length: 3, customValues: heightTicks, lineStyle: { color: "#000" } },
      axisLabel: { show: true, customValues: heightTicks, margin: 7, color: "#000", fontSize: 15, fontFamily: FONT },
    });
    series.push({
      type: "custom", xAxisIndex: i, yAxisIndex: i, clip: true, z: 2,
      data: p.lines.map((_, k) => [k]),
      renderItem: (_: any, api: any) => {
        const [key, close, pts] = p.lines[api.value(0)];
        const isLoop = close === "loop";
        const line = smooth(pts.map((q) => api.coord(q)), isLoop);
        const extra = close && !isLoop ? close.split(",").map((c) => api.coord(corners[c])) : [];
        const stroke = isLoop ? [...line, line[0]] : line;
        return {
          type: "group",
          children: [
            { type: "polygon", shape: { points: [...line, ...extra] }, style: { fill: shadeOf(key, p.t), stroke: "none" } },
            {
              type: "polyline", shape: { points: stroke },
              style: { fill: "none", stroke: "#000", lineWidth: 1, lineDash: key < -30 ? [2, 1.5] : undefined },
            },
          ],
        };
      },
    });
    series.push({
      type: "custom", xAxisIndex: i, yAxisIndex: i, clip: false, z: 3,
      data: [[0]],
      renderItem: (params: any, api: any) => {
        const cs = params.coordSys;
        return {
          type: "group",
          children: [
            ...stripeHeights.map((h) => {
              const y = api.coord([0, h])[1];
              return {
                type: "line", shape: { x1: cs.x, y1: y, x2: cs.x + cs.width, y2: y },
                style: { stroke: "rgba(255,255,255,0.13)", lineWidth: 1 },
              };
            }),
            { type: "rect", shape: { x: cs.x, y: cs.y, width: cs.width, height: cs.height }, style: { fill: "none", stroke: "#000", lineWidth: 1.3 } },
          ],
        };
      },
    });
    series.push({
      type: "scatter", xAxisIndex: i, yAxisIndex: i, z: 4, symbolSize: 1,
      itemStyle: { color: "transparent" }, clip: false,
      data: p.labels,
      label: {
        show: true, position: "inside", color: "#000", fontSize: 15, fontFamily: FONT,
        backgroundColor: "#ffffff", padding: [0, 2], lineHeight: 13, opacity: 1,
        formatter: (v: any) => v.value[2],
      },
    });
  });
  return {
    animation: false,
    backgroundColor: "#fff",
    grid, xAxis, yAxis, series,
    graphic: titles.map(([text, x, y, size]) => ({
      type: "text", x, y,
      style: { text, fill: "#000", font: `${size}px ${TITLE_FONT}`, textAlign: "center", textVerticalAlign: "middle" },
    })),
  };
}

export default function App() {
  const ref = useRef<HTMLDivElement>(null);
  useEffect(() => {
    document.body.style.margin = "0";
    const chart = echarts.init(ref.current!, undefined, { renderer: "svg" });
    chart.setOption(buildOption() as any);
    return () => chart.dispose();
  }, []);
  return <div ref={ref} style={{ width: 1247, height: 933 }} />;
}
